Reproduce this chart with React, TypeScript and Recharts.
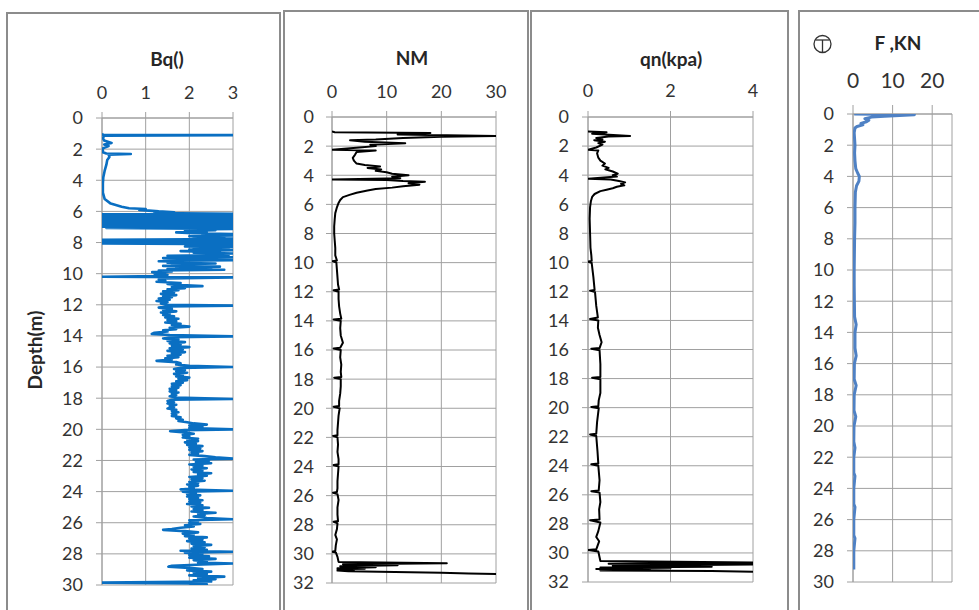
import React from 'react';
import { ScatterChart, Scatter, XAxis, YAxis, CartesianGrid } from 'recharts';

const FONT = 'Lato, "Open Sans", sans-serif';

// ---------- tick labels ----------
const depthTicks30 = [0, 2, 4, 6, 8, 10, 12, 14, 16, 18, 20, 22, 24, 26, 28, 30];
const depthTicks32 = [0, 2, 4, 6, 8, 10, 12, 14, 16, 18, 20, 22, 24, 26, 28, 30, 32];
const bqTicks = [0, 1, 2, 3];
const nmTicks = [0, 10, 20, 30];
const qnTicks = [0, 2, 4];
const fTicks = [0, 10, 20];

// ---------- series: [depth (m), value] ----------
const bqProfile: [number, number][] = [
  [1.0, 0], [1.08, 0.02], [1.1, 3], [1.13, 0.05], [1.3, 0.02], [1.45, 0.05], [1.6, 0.22], [1.7, 0.05], [1.8, 0.15], [1.95, 0.02],
  [2.2, 0.02], [2.28, 0.1], [2.31, 0.66], [2.35, 0.15], [2.5, 0.17], [2.7, 0.12], [3.0, 0.1], [3.4, 0.06], [3.8, 0.03], [4.2, 0.02],
  [4.8, 0.02], [5.2, 0.06], [5.5, 0.2], [5.7, 0.45], [5.8, 0.62], [5.85, 1.0], [5.9, 0.85], [6.0, 1.3], [6.05, 1.65], [6.1, 1.2],
  [6.15, 3], [6.19, 0], [6.23, 3], [6.27, 0], [6.31, 3], [6.35, 0], [6.39, 3], [6.43, 0], [6.47, 3], [6.51, 0],
  [6.55, 3], [6.59, 0], [6.63, 3], [6.67, 0], [6.71, 3], [6.75, 0], [6.79, 3], [6.83, 0], [6.87, 3], [6.91, 0],
  [6.95, 3], [6.99, 0], [7.03, 3], [7.07, 0.1], [7.12, 3], [7.16, 2.0], [7.2, 2.6], [7.25, 1.9], [7.3, 2.4], [7.35, 1.7],
  [7.4, 2.1], [7.45, 3], [7.5, 2.3], [7.55, 3], [7.6, 2.0], [7.65, 2.8], [7.7, 2.1], [7.74, 3], [7.78, 3], [7.82, 0],
  [7.86, 3], [7.9, 0], [7.94, 3], [7.98, 0], [8.02, 3], [8.06, 0], [8.1, 3], [8.15, 2.2], [8.2, 3], [8.25, 1.9],
  [8.3, 3], [8.35, 2.1], [8.4, 2.9], [8.45, 2.0], [8.5, 3], [8.55, 1.8], [8.6, 2.7], [8.65, 2.1], [8.7, 3], [8.75, 2.3],
  [8.8, 2.9], [8.85, 1.5], [8.9, 2.6], [8.95, 3], [9.0, 1.4], [9.05, 2.4], [9.1, 1.6], [9.13, 3], [9.17, 1.8], [9.2, 1.3],
  [9.25, 2.2], [9.3, 1.5], [9.35, 2.6], [9.4, 1.6], [9.45, 2.3], [9.5, 1.4], [9.55, 2.7], [9.6, 1.7], [9.65, 2.5], [9.7, 1.5],
  [9.75, 2.8], [9.8, 1.3], [9.85, 1.6], [9.9, 1.15], [9.95, 1.45], [10.0, 1.2], [10.08, 1.5], [10.15, 1.3], [10.2, 0], [10.24, 3],
  [10.3, 1.5], [10.38, 1.3], [10.45, 1.45], [10.52, 1.25], [10.6, 1.8], [10.66, 1.5], [10.72, 1.7], [10.8, 2.3], [10.86, 1.6], [10.93, 1.9],
  [11.0, 1.5], [11.07, 1.75], [11.14, 1.4], [11.22, 1.65], [11.3, 1.35], [11.38, 1.7], [11.45, 1.4], [11.52, 1.6], [11.6, 1.3], [11.68, 1.55],
  [11.76, 1.25], [11.84, 1.5], [11.92, 1.35], [12.0, 1.45], [12.05, 3], [12.1, 1.5], [12.18, 1.3], [12.26, 1.6], [12.34, 1.4], [12.42, 1.7],
  [12.5, 1.35], [12.58, 1.55], [12.66, 1.4], [12.74, 1.65], [12.82, 1.45], [12.9, 1.75], [12.98, 1.5], [13.06, 1.7], [13.14, 1.45], [13.22, 1.8],
  [13.3, 1.6], [13.4, 2.0], [13.48, 1.55], [13.56, 1.7], [13.64, 1.4], [13.72, 1.5], [13.8, 1.2], [13.87, 1.14], [13.94, 1.55], [14.03, 3],
  [14.08, 1.6], [14.16, 1.4], [14.24, 1.75], [14.32, 1.5], [14.4, 1.9], [14.48, 1.55], [14.56, 1.8], [14.64, 1.6], [14.72, 2.0], [14.8, 1.55],
  [14.88, 1.85], [14.96, 1.5], [15.04, 1.9], [15.12, 1.6], [15.2, 1.8], [15.28, 1.5], [15.36, 1.75], [15.44, 1.45], [15.52, 1.6], [15.6, 1.25],
  [15.68, 1.7], [15.76, 1.8], [15.84, 1.7], [15.92, 2.0], [16.0, 3], [16.05, 1.8], [16.12, 1.65], [16.2, 1.9], [16.28, 1.7], [16.36, 1.95],
  [16.44, 1.65], [16.52, 1.85], [16.6, 1.7], [16.68, 2.0], [16.76, 1.75], [16.84, 1.95], [16.92, 1.7], [17.0, 1.85], [17.08, 1.6], [17.16, 1.8],
  [17.24, 1.6], [17.32, 1.75], [17.4, 1.55], [17.48, 1.7], [17.56, 1.55], [17.64, 1.75], [17.72, 1.6], [17.8, 1.7], [17.88, 1.55], [17.96, 1.7],
  [18.05, 3], [18.1, 1.6], [18.18, 1.5], [18.26, 1.65], [18.34, 1.5], [18.42, 1.7], [18.5, 1.55], [18.58, 1.65], [18.66, 1.5], [18.74, 1.7],
  [18.82, 1.6], [18.9, 1.75], [18.98, 1.6], [19.06, 1.7], [19.14, 1.6], [19.22, 1.8], [19.3, 1.7], [19.38, 1.85], [19.46, 1.75], [19.54, 1.95],
  [19.62, 2.1], [19.7, 2.4], [19.76, 2.0], [19.84, 2.3], [19.92, 2.0], [20.0, 3], [20.05, 1.9], [20.12, 1.56], [20.2, 1.9], [20.28, 2.1],
  [20.36, 1.85], [20.44, 2.0], [20.52, 1.85], [20.6, 2.2], [20.68, 1.95], [20.76, 2.2], [20.84, 1.9], [20.92, 2.15], [21.0, 1.95], [21.08, 2.3],
  [21.16, 2.0], [21.24, 2.25], [21.32, 2.0], [21.4, 2.3], [21.48, 2.05], [21.56, 2.2], [21.64, 2.0], [21.72, 2.35], [21.8, 2.6], [21.88, 3],
  [21.94, 2.1], [22.02, 2.45], [22.1, 2.15], [22.18, 2.5], [22.26, 2.0], [22.34, 2.3], [22.42, 2.1], [22.5, 2.4], [22.58, 2.05], [22.66, 2.3],
  [22.74, 2.1], [22.82, 2.5], [22.9, 2.2], [22.98, 2.4], [23.06, 2.0], [23.14, 2.3], [23.22, 2.05], [23.3, 2.35], [23.38, 2.0], [23.46, 2.2],
  [23.54, 1.95], [23.62, 2.2], [23.7, 2.0], [23.78, 2.1], [23.86, 1.8], [23.95, 3], [24.0, 1.85], [24.08, 2.15], [24.16, 1.95], [24.24, 2.25],
  [24.32, 1.95], [24.4, 2.2], [24.48, 2.0], [24.56, 2.3], [24.64, 2.0], [24.72, 2.25], [24.8, 1.95], [24.88, 2.3], [24.96, 2.05], [25.04, 2.45],
  [25.12, 2.1], [25.2, 2.3], [25.28, 2.05], [25.36, 2.6], [25.44, 2.2], [25.52, 2.35], [25.6, 2.1], [25.7, 2.4], [25.78, 3], [25.84, 2.0],
  [25.92, 2.2], [26.0, 2.0], [26.08, 2.25], [26.16, 1.9], [26.24, 2.1], [26.32, 1.8], [26.4, 1.6], [26.46, 1.4], [26.54, 1.9], [26.62, 2.2],
  [26.7, 1.85], [26.78, 2.1], [26.86, 1.9], [26.94, 2.4], [27.02, 2.0], [27.1, 2.3], [27.18, 1.95], [27.26, 2.35], [27.34, 2.05], [27.42, 2.5],
  [27.5, 2.1], [27.58, 2.35], [27.66, 2.05], [27.74, 2.4], [27.8, 1.8], [27.86, 3], [27.92, 1.9], [28.0, 2.3], [28.08, 2.0], [28.16, 2.45],
  [28.24, 2.0], [28.32, 2.6], [28.4, 2.1], [28.48, 2.4], [28.56, 2.2], [28.62, 3], [28.68, 2.3], [28.76, 1.6], [28.82, 1.52], [28.9, 2.0],
  [28.98, 2.3], [29.06, 1.95], [29.14, 2.5], [29.22, 2.1], [29.3, 2.4], [29.38, 2.0], [29.46, 2.8], [29.54, 2.2], [29.62, 2.6], [29.7, 2.1],
  [29.78, 2.5], [29.85, 0], [29.9, 2.1], [29.96, 2.4], [30.0, 2.0],
];

const nmProfile: [number, number][] = [
  [1.0, 0], [1.05, 0.5], [1.1, 18], [1.2, 12], [1.3, 30], [1.35, 20], [1.45, 13], [1.55, 8], [1.6, 3.3], [1.7, 6],
  [1.8, 13.4], [1.9, 7], [2.0, 8], [2.1, 5], [2.25, 0], [2.3, 8], [2.4, 4.5], [2.6, 4.2], [2.8, 3.8], [3.0, 4.0],
  [3.2, 4.5], [3.3, 6], [3.4, 8.8], [3.5, 6.5], [3.6, 9], [3.7, 8], [3.8, 10], [3.9, 11], [4.0, 14], [4.1, 11],
  [4.2, 12.5], [4.3, 0], [4.33, 10], [4.4, 13], [4.45, 17], [4.55, 14], [4.65, 16], [4.75, 13], [4.85, 11], [4.95, 8],
  [5.05, 6.5], [5.2, 4.5], [5.35, 3.2], [5.5, 2.0], [5.7, 1.5], [5.9, 1.2], [6.2, 0.9], [6.6, 0.6], [7.0, 0.5], [7.5, 0.4],
  [8.0, 0.4], [8.5, 0.5], [9.0, 0.6], [9.5, 0.6], [9.85, 0.9], [9.9, 0.1], [10.0, 0.8], [10.5, 0.9], [11.0, 1.0], [11.5, 1.1],
  [11.85, 1.3], [11.9, 0.3], [12.0, 1.2], [12.5, 1.2], [13.0, 1.3], [13.5, 1.5], [13.85, 1.7], [13.9, 0.3], [14.0, 1.6], [14.5, 1.5],
  [15.0, 1.6], [15.5, 2.0], [15.85, 1.5], [15.9, 0.3], [16.0, 1.6], [16.5, 1.5], [17.0, 1.7], [17.5, 1.6], [17.85, 1.7], [17.9, 0.4],
  [18.0, 1.6], [18.5, 1.6], [19.0, 1.5], [19.5, 1.3], [19.85, 1.3], [19.9, 0.3], [20.0, 1.4], [20.5, 1.2], [21.0, 1.1], [21.5, 1.0],
  [21.85, 1.0], [21.9, 0.2], [22.0, 1.0], [22.5, 1.1], [23.0, 1.0], [23.5, 1.2], [23.85, 1.2], [23.9, 0.3], [24.0, 1.2], [24.5, 1.1],
  [25.0, 1.0], [25.5, 1.0], [25.75, 0.9], [25.8, 0.2], [25.9, 1.0], [26.3, 1.2], [26.8, 1.0], [27.3, 1.0], [27.75, 1.1], [27.8, 0.3],
  [27.9, 1.0], [28.3, 0.9], [28.7, 0.6], [29.0, 0.9], [29.4, 0.7], [29.8, 0.6], [29.85, 0], [29.9, 0.7], [30.2, 1.0], [30.55, 1.2],
  [30.65, 21], [30.72, 2], [30.78, 12], [30.85, 1.5], [30.92, 8], [30.98, 1], [31.02, 6], [31.06, 1], [31.1, 4], [31.15, 1],
  [31.2, 3], [31.3, 20], [31.35, 25], [31.38, 30],
];

const qnProfile: [number, number][] = [
  [1.0, 0], [1.05, 0.45], [1.15, 0.1], [1.3, 1.02], [1.35, 0.5], [1.45, 0.2], [1.55, 0.35], [1.6, 0.15], [1.7, 0.41], [1.8, 0.25],
  [1.9, 0.35], [2.1, 0.2], [2.25, 0], [2.3, 0.25], [2.5, 0.22], [2.8, 0.25], [3.0, 0.3], [3.2, 0.41], [3.35, 0.35], [3.5, 0.5],
  [3.6, 0.42], [3.75, 0.6], [3.9, 0.72], [4.0, 0.6], [4.1, 0.7], [4.25, 0], [4.3, 0.55], [4.4, 0.75], [4.5, 0.9], [4.6, 0.8],
  [4.7, 0.88], [4.8, 0.7], [4.9, 0.6], [5.0, 0.45], [5.1, 0.3], [5.3, 0.16], [5.5, 0.1], [5.8, 0.07], [6.2, 0.05], [7.0, 0.04],
  [8.0, 0.05], [9.0, 0.06], [9.5, 0.08], [9.9, 0.09], [9.95, 0.0], [10.05, 0.09], [11.0, 0.13], [11.9, 0.16], [11.95, 0.05], [12.05, 0.17],
  [13.0, 0.2], [13.8, 0.24], [13.9, 0.05], [14.0, 0.25], [14.5, 0.24], [15.0, 0.28], [15.5, 0.33], [15.9, 0.28], [15.95, 0.08], [16.05, 0.28],
  [17.0, 0.3], [17.9, 0.3], [17.95, 0.1], [18.05, 0.3], [19.0, 0.3], [19.5, 0.26], [19.9, 0.25], [19.95, 0.08], [20.05, 0.26], [21.0, 0.22],
  [21.8, 0.2], [21.85, 0.05], [21.95, 0.2], [23.0, 0.23], [23.85, 0.25], [23.9, 0.08], [24.0, 0.25], [25.0, 0.28], [25.7, 0.26], [25.75, 0.08],
  [25.85, 0.28], [26.5, 0.3], [27.0, 0.27], [27.7, 0.28], [27.75, 0.05], [27.9, 0.3], [28.5, 0.25], [28.9, 0.2], [29.2, 0.27], [29.6, 0.22],
  [29.75, 0.2], [29.8, 0], [29.9, 0.25], [30.3, 0.28], [30.55, 0.3], [30.65, 4], [30.75, 0.5], [30.8, 4], [30.88, 0.6], [30.95, 3],
  [31.0, 0.3], [31.05, 2], [31.1, 0.2], [31.15, 1.5], [31.2, 0.3], [31.25, 3], [31.3, 4],
];

const fProfile: [number, number][] = [
  [0.0, 0.3], [0.05, 15.5], [0.15, 8], [0.2, 4.7], [0.3, 3], [0.4, 4], [0.5, 3.4], [0.6, 2], [0.7, 2.5], [0.8, 1],
  [0.9, 0.5], [1.2, 0.3], [1.6, 0.4], [2.0, 0.5], [2.5, 0.4], [3.0, 0.5], [3.5, 0.7], [3.8, 1.2], [4.0, 1.6], [4.3, 1.5],
  [4.6, 0.9], [5.0, 0.6], [6.0, 0.5], [7.0, 0.5], [8.0, 0.4], [9.0, 0.35], [10.0, 0.3], [11.0, 0.3], [12.0, 0.35], [13.0, 0.4],
  [13.5, 0.8], [14.0, 0.5], [15.0, 0.5], [15.5, 0.8], [16.0, 0.35], [17.0, 0.3], [17.4, 0.8], [18.0, 0.3], [19.0, 0.25], [19.4, 0.7],
  [20.0, 0.25], [21.0, 0.2], [21.4, 0.5], [22.0, 0.2], [23.0, 0.2], [23.2, 0.5], [24.0, 0.2], [25.0, 0.2], [25.2, 0.5], [26.0, 0.2],
  [27.0, 0.2], [27.2, 0.5], [28.0, 0.2], [29.2, 0.2],
];

type Rect = { x: number; y: number; w: number; h: number };
type Plot = { x0: number; x1: number; y0: number; y1: number };

const GRID = '#a0a0a0';
const TICK_FILL = '#333333';
const Y_AXIS_W = 50;
const X_AXIS_H = 40;

function Panel(props: {
  region: Rect;
  plot: Plot;
  profile: [number, number][];
  xDomain: [number, number];
  xTicks: number[];
  yDomain: [number, number];
  yTicks: number[];
  color: string;
  strokeWidth: number;
  xFont?: number;
  xTickSize?: number;
  xTickMargin?: number;
  yTickMargin?: number;
}) {
  const { region, plot, profile, color, strokeWidth } = props;
  const margin = {
    left: plot.x0 - region.x - Y_AXIS_W,
    top: plot.y0 - region.y - X_AXIS_H,
    right: region.x + region.w - plot.x1,
    bottom: region.y + region.h - plot.y1,
  };
  const data = profile.map(([d, v]) => ({ d, v }));
  return (
    <div style={{ position: 'absolute', left: region.x, top: region.y }}>
      <ScatterChart width={region.w} height={region.h} margin={margin}>
        <CartesianGrid stroke={GRID} strokeWidth={1} />
        <XAxis
          type="number"
          dataKey="v"
          orientation="top"
          domain={props.xDomain}
          ticks={props.xTicks}
          allowDataOverflow
          height={X_AXIS_H}
          axisLine={{ stroke: GRID }}
          tickLine={{ stroke: GRID }}
          tickSize={props.xTickSize ?? 6}
          tickMargin={props.xTickMargin ?? 12}
          tick={{ fill: TICK_FILL, fontSize: props.xFont ?? 18, fontFamily: FONT }}
          interval={0}
        />
        <YAxis
          type="number"
          dataKey="d"
          reversed
          domain={props.yDomain}
          ticks={props.yTicks}
          allowDataOverflow
          width={Y_AXIS_W}
          axisLine={{ stroke: GRID }}
          tickLine={{ stroke: GRID }}
          tickSize={6}
          tickMargin={props.yTickMargin ?? 12}
          tick={{ fill: TICK_FILL, fontSize: 18, fontFamily: FONT }}
          interval={0}
        />
        <Scatter
          data={data}
          line={{ stroke: color, strokeWidth, strokeLinejoin: 'round' }}
          lineJointType="linear"
          shape={() => <g />}
          isAnimationActive={false}
        />
      </ScatterChart>
    </div>
  );
}

const BORDER = '#8c8c8c';

function Box({ x, y, w }: { x: number; y: number; w: number }) {
  return (
    <div
      style={{
        position: 'absolute',
        left: x,
        top: y,
        width: w,
        height: 640,
        border: `2px solid ${BORDER}`,
        boxSizing: 'border-box',
      }}
    />
  );
}

export default function App() {
  return (
    <div
      style={{
        position: 'absolute',
        left: 0,
        top: 0,
        width: 979,
        height: 610,
        overflow: 'hidden',
        background: '#ffffff',
        fontFamily: FONT,
      }}
    >
      <Box x={6} y={12} w={275} />
      <Box x={283} y={10} w={246} />
      <Box x={530} y={10} w={259} />
      <Box x={798} y={10} w={200} />

      <Panel
        region={{ x: 8, y: 14, w: 271, h: 596 }}
        plot={{ x0: 102, x1: 233, y0: 118, y1: 585 }}
        profile={bqProfile}
        xDomain={[0, 3]}
        xTicks={bqTicks}
        yDomain={[0, 30]}
        yTicks={depthTicks30}
        color="#0a6fc2"
        strokeWidth={2.6}
        xTickMargin={13}
        yTickMargin={13}
      />
      <Panel
        region={{ x: 286, y: 12, w: 241, h: 598 }}
        plot={{ x0: 332, x1: 496, y0: 117, y1: 583 }}
        profile={nmProfile}
        xDomain={[0, 30]}
        xTicks={nmTicks}
        yDomain={[0, 32]}
        yTicks={depthTicks32}
        color="#000000"
        strokeWidth={2}
        xTickMargin={13}
        yTickMargin={12}
      />
      <Panel
        region={{ x: 533, y: 12, w: 254, h: 598 }}
        plot={{ x0: 588, x1: 753, y0: 117, y1: 582 }}
        profile={qnProfile}
        xDomain={[0, 4]}
        xTicks={qnTicks}
        yDomain={[0, 32]}
        yTicks={depthTicks32}
        color="#000000"
        strokeWidth={2}
        xTickMargin={14}
        yTickMargin={13}
      />
      <Panel
        region={{ x: 801, y: 12, w: 178, h: 598 }}
        plot={{ x0: 853, x1: 952, y0: 114, y1: 582 }}
        profile={fProfile}
        xDomain={[0, 25]}
        xTicks={fTicks}
        yDomain={[0, 30]}
        yTicks={depthTicks30}
        color="#4f81c4"
        strokeWidth={3}
        xFont={21}
        xTickSize={9}
        xTickMargin={17}
        yTickMargin={13}
      />

      <svg
        width={979}
        height={610}
        style={{ position: 'absolute', left: 0, top: 0, pointerEvents: 'none' }}
      >
        <g fontFamily={FONT} fontWeight="bold" fontSize={19} fill="#262626" textAnchor="middle">
          <text x={167} y={66}>Bq()</text>
          <text x={412} y={65}>NM</text>
          <text x={671} y={66}>qn(kpa)</text>
          <text x={898} y={50}>F ,KN</text>
          <text transform="translate(42,350) rotate(-90)">Depth(m)</text>
        </g>
        <g stroke="#333333" strokeWidth={1.3} fill="none">
          <circle cx={822.5} cy={44} r={8.5} />
          <line x1={815.5} y1={40} x2={829.5} y2={40} />
          <line x1={822.5} y1={40} x2={822.5} y2={52.5} />
        </g>
      </svg>
    </div>
  );
}
